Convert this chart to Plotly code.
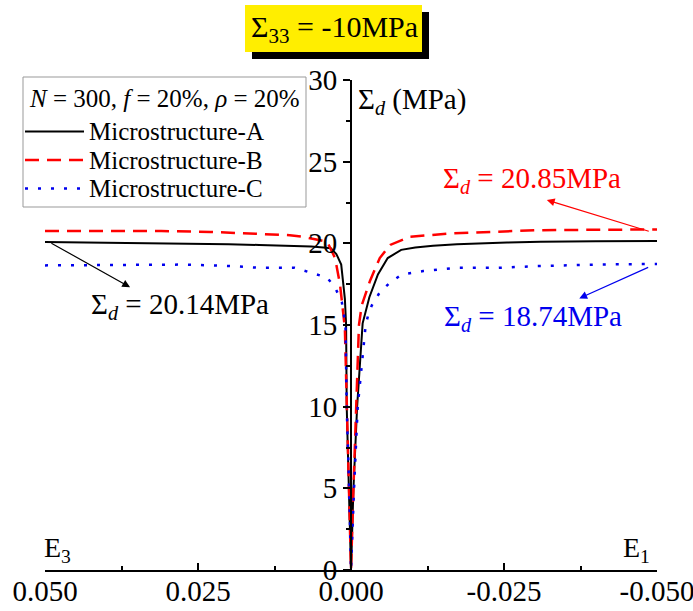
import plotly.graph_objects as go

# ---- data (strain E, positive = E3 side on the left, negative = E1 side on the right) ----
eps_A = [0.05, 0.04, 0.03, 0.02, 0.015, 0.0098, 0.0065, 0.0045, 0.0033, 0.0024, 0.0016,
         0.0010, 0.0008, 0.0007, 0.0003, 0.0,
         -0.0004, -0.0010, -0.0019, -0.0030, -0.0044, -0.0060, -0.0082, -0.0105,
         -0.0134, -0.0173, -0.0255, -0.031, -0.04, -0.05]
sig_A = [20.08, 20.05, 20.0, 19.95, 19.9, 19.85, 19.8, 19.75, 19.7, 19.35, 18.7,
         16.6, 15.0, 10.0, 5.0, 0.0,
         5.0, 10.0, 15.1, 16.7, 18.1, 19.1, 19.6, 19.75,
         19.85, 19.95, 20.05, 20.1, 20.12, 20.14]

eps_B = [0.05, 0.04, 0.031, 0.023, 0.015, 0.010, 0.0078, 0.0039, 0.0026, 0.0018, 0.0010,
         0.0007, 0.0003, 0.0,
         -0.0004, -0.0009, -0.0013, -0.00175, -0.0031, -0.0047, -0.0064, -0.0096,
         -0.016, -0.023, -0.030, -0.040, -0.05]
sig_B = [20.75, 20.75, 20.75, 20.7, 20.6, 20.5, 20.4, 20.1, 19.1, 17.5, 14.8,
         10.0, 5.0, 0.0,
         5.0, 10.0, 15.0, 16.2, 17.7, 19.1, 19.9, 20.4,
         20.6, 20.7, 20.8, 20.83, 20.85]

eps_C = [0.05, 0.035, 0.027, 0.019, 0.015, 0.0092, 0.0075, 0.0056, 0.0039, 0.0026, 0.0015,
         0.0009, 0.0007, 0.0003, 0.0,
         -0.0005, -0.0011, -0.0024, -0.0028, -0.0034, -0.0047, -0.0064, -0.0083,
         -0.0118, -0.0173, -0.024, -0.030, -0.04, -0.05]
sig_C = [18.65, 18.7, 18.7, 18.6, 18.5, 18.5, 18.3, 18.1, 17.9, 17.3, 16.4,
         15.0, 10.0, 5.0, 0.0,
         5.0, 10.0, 15.0, 15.6, 16.2, 17.0, 17.6, 18.1,
         18.3, 18.5, 18.5, 18.6, 18.7, 18.74]

names = ["Microstructure-A", "Microstructure-B", "Microstructure-C"]
legend_title = "<i>N</i> = 300, <i>f</i> = 20%, <i>ρ</i> = 20%"
x_ticks = [0.05, 0.025, 0.0, -0.025, -0.05]
x_labels = ["0.050", "0.025", "0.000", "-0.025", "-0.050"]
y_ticks = [0, 5, 10, 15, 20, 25, 30]

FONT = "Liberation Serif"
W, H = 693, 611
ML, MR, MT, MB = 45, 36, 80, 41
PW, PH = W - ML - MR, H - MT - MB


def PX(px):  # pixel x -> paper x
    return (px - ML) / PW


def PY(py):  # pixel y -> paper y
    return (H - MB - py) / PH


styles = [
    dict(color="black", width=2),
    dict(color="#ff0000", width=2.5, dash="14px,8px"),
    dict(color="#0000ee", width=2.5, dash="3px,10px"),
]

fig = go.Figure()
for ex, sy, nm, st in zip([eps_A, eps_B, eps_C], [sig_A, sig_B, sig_C], names, styles):
    fig.add_trace(go.Scatter(x=ex, y=sy, mode="lines", name=nm, line=st, showlegend=False))

fig.update_layout(
    width=W, height=H,
    margin=dict(l=ML, r=MR, t=MT, b=MB, autoexpand=False),
    paper_bgcolor="white", plot_bgcolor="white",
    font=dict(family=FONT, color="black", size=24),
    showlegend=False,
    xaxis=dict(
        range=[0.05, -0.05], domain=[0, 1], automargin=False,
        tickvals=x_ticks, ticktext=x_labels, ticklabeloverflow="allow",
        ticklabelstandoff=-6,
        ticks="inside", ticklen=7, tickwidth=1.5, tickcolor="black",
        minor=dict(dtick=0.0125, ticks="inside", ticklen=4, tickwidth=1.5, tickcolor="black"),
        showline=True, linecolor="black", linewidth=2,
        showgrid=False, zeroline=False,
        tickfont=dict(family=FONT, size=29, color="black"),
    ),
    yaxis=dict(
        range=[0, 30], anchor="free", position=0.5, automargin=False,
        tickvals=y_ticks, ticklabeloverflow="allow",
        ticks="outside", ticklen=7, tickwidth=1.5, tickcolor="black",
        minor=dict(dtick=2.5, ticks="outside", ticklen=4, tickwidth=1.5, tickcolor="black"),
        showline=True, linecolor="black", linewidth=2,
        showgrid=False, zeroline=False,
        tickfont=dict(family=FONT, size=29, color="black"),
    ),
)

# ---- title box with shadow ----
fig.add_shape(type="rect", xref="paper", yref="paper",
              x0=PX(252), x1=PX(429), y0=PY(59), y1=PY(12),
              fillcolor="black", line=dict(width=0), layer="below")
fig.add_shape(type="rect", xref="paper", yref="paper",
              x0=PX(245), x1=PX(422), y0=PY(52), y1=PY(5),
              fillcolor="#ffee00", line=dict(width=0), layer="below")
fig.add_annotation(xref="paper", yref="paper", x=PX(334), y=PY(29),
                   xanchor="center", yanchor="middle",
                   text="Σ<sub>33</sub> = -10MPa", showarrow=False,
                   font=dict(family=FONT, size=30, color="black"))

# ---- legend box (drawn by hand to match the spacing) ----
fig.add_shape(type="rect", xref="paper", yref="paper",
              x0=PX(23), x1=PX(306), y0=PY(207), y1=PY(77),
              fillcolor="white", line=dict(color="#999999", width=1), layer="above")
fig.add_annotation(xref="paper", yref="paper", x=PX(27), y=PY(98),
                   xanchor="left", yanchor="middle",
                   text=legend_title, showarrow=False,
                   font=dict(family=FONT, size=25, color="black"))
for i, (nm, st) in enumerate(zip(names, styles)):
    yy = [131.5, 160, 188.5][i]
    fig.add_shape(type="line", xref="paper", yref="paper",
                  x0=PX(25), x1=PX(84), y0=PY(yy), y1=PY(yy),
                  line=dict(color=st["color"], width=st["width"], dash=st.get("dash", "solid")),
                  layer="above")
    fig.add_annotation(xref="paper", yref="paper", x=PX(87), y=PY(yy),
                       xanchor="left", yanchor="middle",
                       text=nm, showarrow=False,
                       font=dict(family=FONT, size=25, color="black"))

# ---- axis labels ----
fig.add_annotation(xref="paper", yref="paper", x=PX(356), y=PY(101),
                   xanchor="left", yanchor="middle",
                   text="Σ<sub><i>d</i></sub> (MPa)", showarrow=False,
                   font=dict(family=FONT, size=29, color="black"))
fig.add_annotation(xref="paper", yref="paper", x=PX(57), y=PY(549),
                   xanchor="center", yanchor="middle",
                   text="E<sub>3</sub>", showarrow=False,
                   font=dict(family=FONT, size=28, color="black"))
fig.add_annotation(xref="paper", yref="paper", x=PX(636), y=PY(549),
                   xanchor="center", yanchor="middle",
                   text="E<sub>1</sub>", showarrow=False,
                   font=dict(family=FONT, size=28, color="black"))

# ---- value annotations: arrows ----
arrows = [
    (-0.0320, 22.65, -0.0489, 20.71, "#ff0000"),
    (-0.0373, 16.63, -0.0488, 18.57, "#0000ee"),
    (0.0361, 17.31, 0.0492, 20.06, "black"),
]
for hx, hy, tx, ty, c in arrows:
    fig.add_annotation(x=hx, y=hy, ax=tx, ay=ty, xref="x", yref="y", axref="x", ayref="y",
                       text="", showarrow=True, arrowhead=2, arrowsize=1.3, arrowwidth=1.2,
                       arrowcolor=c)

labels = [
    (-0.0296, 23.88, "Σ<sub><i>d</i></sub> = 20.85MPa", "#ff0000"),
    (-0.0297, 15.43, "Σ<sub><i>d</i></sub> = 18.74MPa", "#0000ee"),
    (0.0280, 16.16, "Σ<sub><i>d</i></sub> = 20.14MPa", "black"),
]
for lx, ly, t, c in labels:
    fig.add_annotation(x=lx, y=ly, xref="x", yref="y", text=t, showarrow=False,
                       xanchor="center", yanchor="middle",
                       font=dict(family=FONT, size=29, color=c))

fig.write_html(
    "out.html",
    config={"displayModeBar": False},
    post_script="document.body.style.margin='0';document.body.style.padding='0';"
                "document.documentElement.style.overflow='hidden';",
)
